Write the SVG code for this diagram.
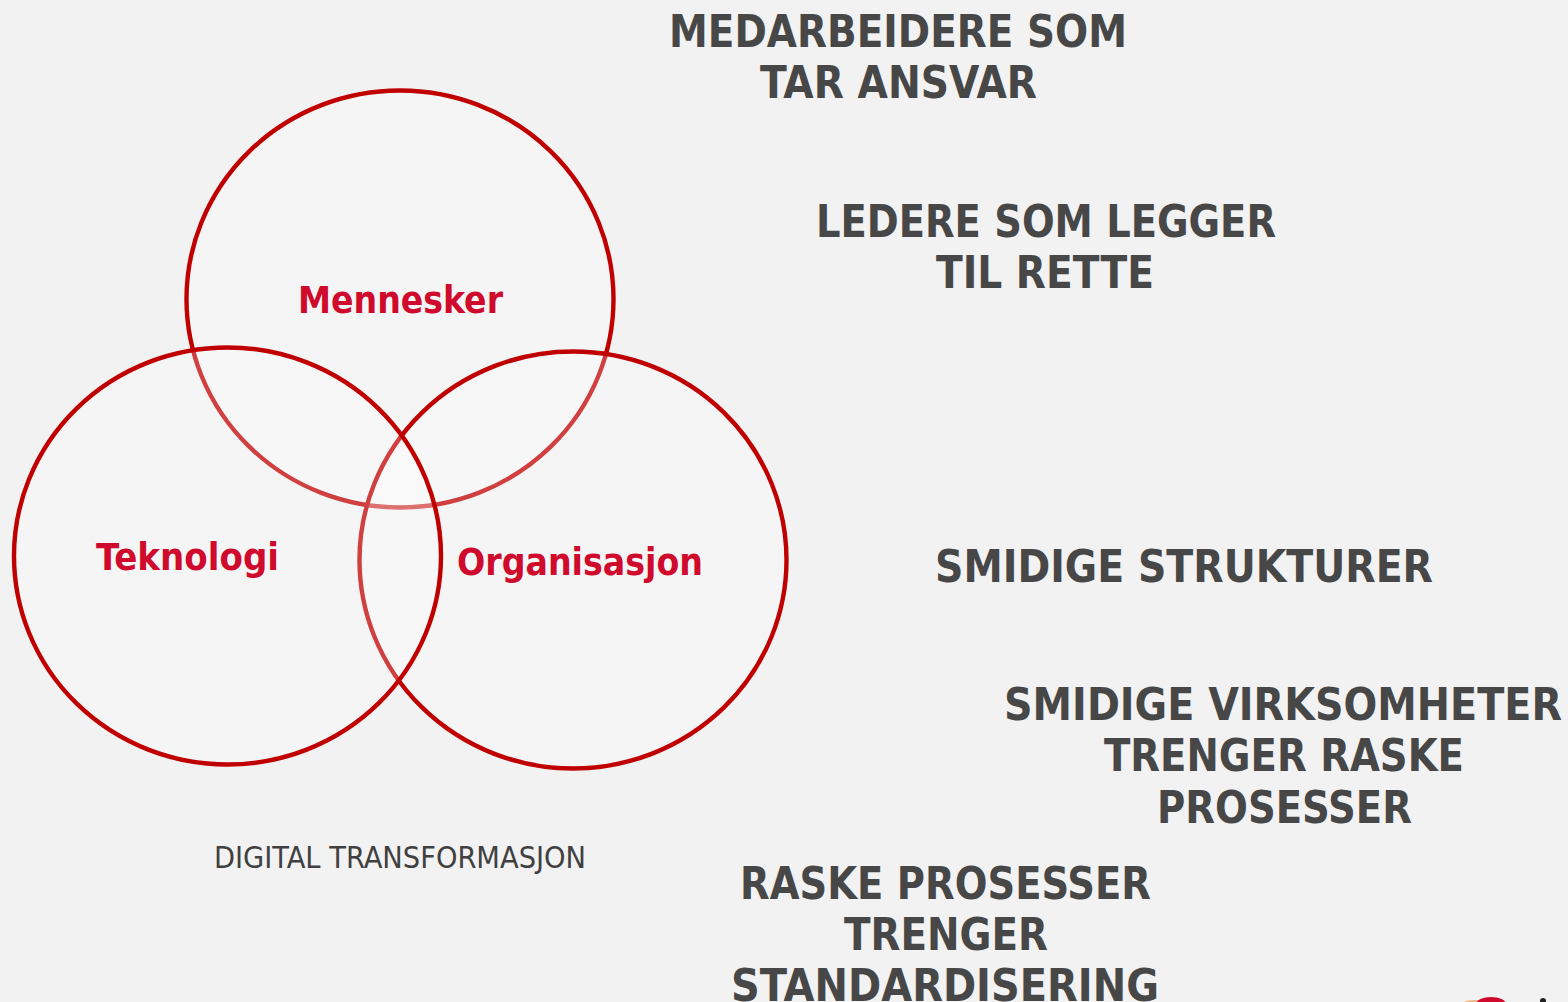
<svg xmlns="http://www.w3.org/2000/svg" width="1568" height="1002" viewBox="0 0 1568 1002">
<style>
.c{fill:#fff;fill-opacity:.25;stroke:#c00000;stroke-width:4.4}
.h{font:bold 44px "DejaVu Sans",Verdana,sans-serif;font-stretch:condensed;fill:#474747;text-anchor:middle}
.r{font:bold 37px "DejaVu Sans",Verdana,sans-serif;font-stretch:condensed;fill:#cf0a2c;text-anchor:middle}
.s{font:30px "DejaVu Sans",Verdana,sans-serif;font-stretch:condensed;fill:#404040;text-anchor:middle}
</style>
<rect width="1568" height="1002" fill="#f2f2f2"/>
<g id="venn">
<g id="mennesker"><ellipse class="c" cx="400" cy="299" rx="213.5" ry="208.5"/><text class="r" x="400.5" y="313" textLength="205" lengthAdjust="spacingAndGlyphs">Mennesker</text></g>
<g id="organisasjon"><ellipse class="c" cx="573" cy="560" rx="213.5" ry="208.5"/><text class="r" x="580" y="575" textLength="246" lengthAdjust="spacingAndGlyphs">Organisasjon</text></g>
<g id="teknologi"><ellipse class="c" cx="227.500" cy="556" rx="213.5" ry="208.5"/><text class="r" x="187.500" y="570" textLength="183" lengthAdjust="spacingAndGlyphs">Teknologi</text></g>
</g>
<text id="caption" class="s" x="400" y="868" textLength="372" lengthAdjust="spacingAndGlyphs">DIGITAL TRANSFORMASJON</text>
<g id="statements">
<text class="h" x="898" y="46.500" textLength="458" lengthAdjust="spacingAndGlyphs">MEDARBEIDERE SOM</text>
<text class="h" x="898.500" y="97.500" textLength="277" lengthAdjust="spacingAndGlyphs">TAR ANSVAR</text>
<text class="h" x="1046" y="236.500" textLength="460" lengthAdjust="spacingAndGlyphs">LEDERE SOM LEGGER</text>
<text class="h" x="1045" y="287.500" textLength="218" lengthAdjust="spacingAndGlyphs">TIL RETTE</text>
<text class="h" x="1184" y="581.500" textLength="498" lengthAdjust="spacingAndGlyphs">SMIDIGE STRUKTURER</text>
<text class="h" x="1283" y="719.500" textLength="558" lengthAdjust="spacingAndGlyphs">SMIDIGE VIRKSOMHETER</text>
<text class="h" x="1284" y="770.500" textLength="360" lengthAdjust="spacingAndGlyphs">TRENGER RASKE</text>
<text class="h" x="1284.500" y="822.500" textLength="255" lengthAdjust="spacingAndGlyphs">PROSESSER</text>
<text class="h" x="945.500" y="898.500" textLength="411" lengthAdjust="spacingAndGlyphs">RASKE PROSESSER</text>
<text class="h" x="946" y="949.500" textLength="204" lengthAdjust="spacingAndGlyphs">TRENGER</text>
<text class="h" x="945" y="1000.500" textLength="428" lengthAdjust="spacingAndGlyphs">STANDARDISERING</text>
</g>
<g id="logo-fragment">
<ellipse cx="1474" cy="1004" rx="12" ry="4" fill="#f0b98a"/>
<ellipse cx="1491" cy="1004" rx="15" ry="7" fill="#cf0a2c"/>
<circle cx="1543" cy="1001" r="3" fill="#222"/>
</g>
</svg>
